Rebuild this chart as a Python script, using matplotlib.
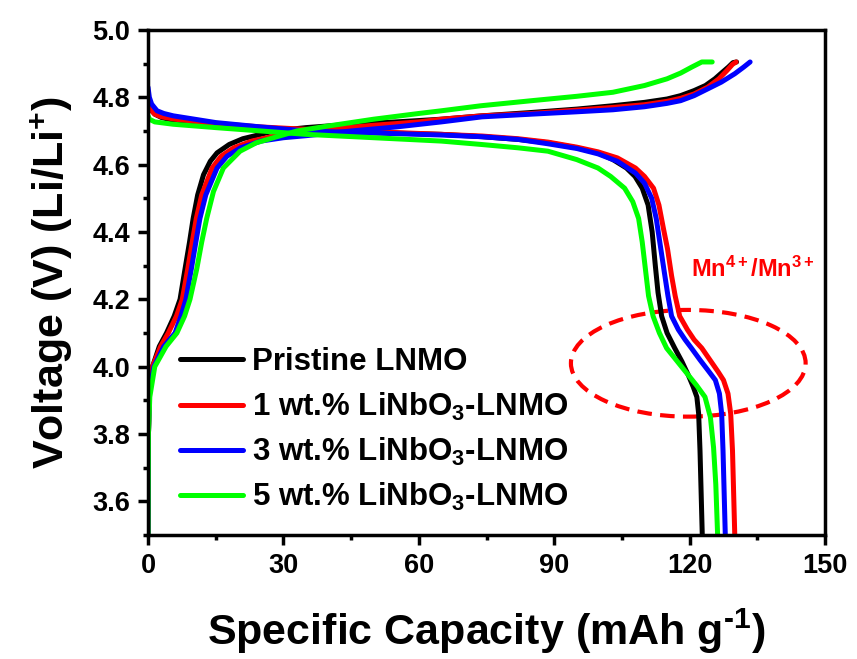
from matplotlib import pyplot as plt
from matplotlib.patches import Ellipse
from matplotlib.ticker import MultipleLocator

plt.rcParams["font.family"] = ["Liberation Sans", "DejaVu Sans"]
plt.rcParams["font.weight"] = "bold"
plt.rcParams["axes.labelweight"] = "bold"
plt.rcParams["mathtext.fontset"] = "custom"
plt.rcParams["mathtext.rm"] = "Liberation Sans:bold"
plt.rcParams["mathtext.it"] = "Liberation Sans:bold"
plt.rcParams["mathtext.bf"] = "Liberation Sans:bold"
plt.rcParams["mathtext.default"] = "rm"

labels = ["Pristine LNMO", "1 wt.% LiNbO$_3$-LNMO",
          "3 wt.% LiNbO$_3$-LNMO", "5 wt.% LiNbO$_3$-LNMO"]
colors = ["black", "red", "blue", "#00ff00"]

# charge curves (capacity mAh/g, voltage V)
black_chg_cap = [0, 0.1, 0.3, 1.0, 2.5, 4.1, 5.8, 7.1, 8.2, 9.2, 10.0, 11.0, 12.3, 13.8, 15.3, 18, 21, 25, 28,
                 35, 45, 55, 65, 74, 85, 95, 103, 110, 115, 118, 121, 123.5, 125.6, 127.3, 128.6, 129.6, 130.4]
black_chg_v = [3.50, 3.80, 3.92, 4.00, 4.06, 4.10, 4.15, 4.20, 4.29, 4.37, 4.44, 4.51, 4.57, 4.61, 4.635, 4.66,
               4.677, 4.69, 4.70, 4.71, 4.72, 4.727, 4.735, 4.745, 4.755, 4.765, 4.775, 4.785, 4.795, 4.805,
               4.82, 4.835, 4.855, 4.875, 4.89, 4.903, 4.905]

red_chg_cap = [0, 0.1, 0.3, 1.0, 2.8, 4.5, 6.3, 7.6, 8.8, 9.8, 10.7, 11.9, 14.2, 16.2, 19, 23, 28, 33, 40, 50,
               60, 65, 74, 85, 95, 103, 110, 115, 118, 121, 124, 126.5, 128.3, 129.5, 130.3]
red_chg_v = [3.50, 3.80, 3.92, 4.00, 4.06, 4.10, 4.15, 4.20, 4.29, 4.37, 4.44, 4.51, 4.59, 4.625, 4.65, 4.67,
             4.685, 4.695, 4.705, 4.717, 4.727, 4.735, 4.745, 4.752, 4.762, 4.77, 4.778, 4.788, 4.797, 4.81,
             4.83, 4.855, 4.88, 4.898, 4.905]

blue_chg_cap = [0, 0.1, 0.3, 1.3, 3.5, 6.0, 7.3, 8.4, 9.6, 10.6, 11.5, 12.8, 15.3, 17.5, 20.5, 25, 30, 35, 45,
                55, 65, 74, 85, 95, 103, 110, 115, 118, 121, 124, 127, 130, 132, 133.4]
blue_chg_v = [3.50, 3.80, 3.92, 4.00, 4.06, 4.10, 4.15, 4.20, 4.29, 4.37, 4.44, 4.51, 4.59, 4.625, 4.65, 4.67,
              4.68, 4.686, 4.70, 4.712, 4.727, 4.742, 4.75, 4.757, 4.763, 4.772, 4.782, 4.79, 4.805, 4.825,
              4.845, 4.87, 4.89, 4.905]

green_chg_cap = [0, 0.1, 0.4, 1.5, 4, 6.4, 8.1, 9.3, 10.8, 11.9, 13.0, 14.5, 16.7, 20.4, 24, 27.8, 33, 40, 50,
                 60, 65, 73.8, 85, 95, 103, 110, 115, 118, 120.5, 122.7, 125]
green_chg_v = [3.50, 3.80, 3.91, 4.00, 4.06, 4.10, 4.15, 4.20, 4.29, 4.37, 4.44, 4.52, 4.59, 4.64, 4.665, 4.68,
               4.70, 4.715, 4.735, 4.752, 4.76, 4.775, 4.79, 4.803, 4.815, 4.835, 4.855, 4.872, 4.89, 4.905,
               4.905]

# discharge curves
black_dis_cap = [0, 0.5, 1.5, 3, 6, 15, 25, 35, 50, 65, 74, 82, 88.6, 95, 99.7, 103, 106, 107.9, 109.5, 110.8,
                 111.7, 112.4, 113.0, 113.8, 115, 116.7, 118.3, 119.7, 120.8, 121.6, 122.0, 122.3, 122.6, 122.8]
black_dis_v = [4.78, 4.765, 4.75, 4.74, 4.73, 4.72, 4.71, 4.70, 4.695, 4.69, 4.683, 4.675, 4.665, 4.65, 4.635,
               4.615, 4.59, 4.565, 4.53, 4.48, 4.40, 4.30, 4.22, 4.15, 4.10, 4.055, 4.015, 3.975, 3.94, 3.91,
               3.86, 3.75, 3.60, 3.50]

red_dis_cap = [0, 0.5, 1.5, 3, 6, 15, 25, 35, 50, 65, 74, 82, 88.6, 95, 99.7, 104, 108, 110, 112, 113.2, 114.2,
               115.1, 116, 116.8, 117.8, 119.5, 121, 122.7, 124.5, 126.3, 127.5, 128.5, 129.1, 129.5, 129.8,
               130.0]
red_dis_v = [4.78, 4.765, 4.75, 4.742, 4.735, 4.722, 4.712, 4.705, 4.698, 4.69, 4.685, 4.677, 4.667, 4.652,
             4.638, 4.62, 4.59, 4.565, 4.53, 4.48, 4.41, 4.35, 4.27, 4.21, 4.15, 4.11, 4.08, 4.055, 4.02,
             3.985, 3.96, 3.92, 3.86, 3.75, 3.60, 3.50]

blue_dis_cap = [0, 0.3, 0.8, 2, 3.5, 5.6, 15, 25, 35, 50, 65, 74, 82, 88.6, 95, 99.7, 104, 108, 110, 111.6,
                112.6, 113.5, 114.4, 115.2, 116, 117.5, 119, 120.4, 122.3, 124.3, 125.7, 126.6, 127.1, 127.4,
                127.7, 127.9]
blue_dis_v = [4.83, 4.80, 4.78, 4.76, 4.752, 4.745, 4.725, 4.712, 4.70, 4.694, 4.688, 4.683, 4.675, 4.662,
              4.648, 4.632, 4.61, 4.575, 4.545, 4.50, 4.44, 4.36, 4.28, 4.21, 4.15, 4.11, 4.08, 4.055, 4.02,
              3.985, 3.96, 3.92, 3.86, 3.75, 3.60, 3.50]

green_dis_cap = [0, 0.3, 1.5, 5.6, 15, 25, 35, 50, 65, 73.8, 82, 88.6, 95, 99.7, 102.5, 105.6, 107.4, 108.7,
                 109.5, 110.2, 110.9, 111.9, 113.3, 114.9, 116.7, 118.2, 119.7, 121.5, 123.4, 124.6, 125.3,
                 125.8, 126.2]
green_dis_v = [4.745, 4.735, 4.727, 4.72, 4.71, 4.70, 4.69, 4.68, 4.67, 4.66, 4.65, 4.64, 4.615, 4.59, 4.565,
               4.53, 4.49, 4.44, 4.37, 4.29, 4.21, 4.15, 4.10, 4.055, 4.025, 4.00, 3.975, 3.945, 3.91, 3.85,
               3.76, 3.65, 3.50]

charge = [(black_chg_cap, black_chg_v), (red_chg_cap, red_chg_v),
          (blue_chg_cap, blue_chg_v), (green_chg_cap, green_chg_v)]
discharge = [(black_dis_cap, black_dis_v), (red_dis_cap, red_dis_v),
             (blue_dis_cap, blue_dis_v), (green_dis_cap, green_dis_v)]

fig = plt.figure(figsize=(8.57, 6.59), dpi=100)
ax = fig.add_axes([0.1727, 0.1882, 0.79, 0.7663])

lw = 3.6
for (cc, cv), (dc, dv), col, lab in zip(charge, discharge, colors, labels):
    ax.plot(cc, cv, color=col, lw=lw, solid_capstyle="round", solid_joinstyle="round", label=lab)
    ax.plot(dc, dv, color=col, lw=lw, solid_capstyle="round", solid_joinstyle="round")

# highlight of the Mn4+/Mn3+ region
ax.add_patch(Ellipse((119.7, 4.01), 52, 0.317, fill=False, edgecolor="red",
                     lw=3, linestyle=(0, (3.5, 2))))
ax.text(134.0, 4.29, "Mn$^{4+}$/Mn$^{3+}$", color="red", fontsize=17, fontweight="bold",
        ha="center", va="center")

ax.set_xlim(0, 150)
ax.set_ylim(3.5, 5.0)
ax.xaxis.set_major_locator(MultipleLocator(30))
ax.xaxis.set_minor_locator(MultipleLocator(15))
ax.yaxis.set_major_locator(MultipleLocator(0.2))
ax.yaxis.set_minor_locator(MultipleLocator(0.1))
ax.yaxis.set_major_formatter(lambda v, p: f"{v:.1f}")
ax.tick_params(which="major", direction="out", length=7, width=2.5, labelsize=19.5, pad=6)
ax.tick_params(which="minor", direction="out", length=3.5, width=2.5)
for s in ax.spines.values():
    s.set_linewidth(2.5)

ax.set_xlabel("Specific Capacity (mAh g$^{\u2010 1}$)", fontsize=31, fontweight="bold", labelpad=20)
ax.set_ylabel("Voltage (V) (Li/Li$^{+}$)", fontsize=31, fontweight="bold", labelpad=12)

ax.legend(loc="lower left", bbox_to_anchor=(0.015, 0.0), frameon=False,
          prop={"size": 22.5, "weight": "bold"},
          handlelength=2.0, handletextpad=0.3, labelspacing=0.42, borderaxespad=0.3)

fig.canvas.draw()
for t in ax.get_xticklabels() + ax.get_yticklabels():
    t.set_fontweight("bold")

fig.savefig("out.png", dpi=100)
